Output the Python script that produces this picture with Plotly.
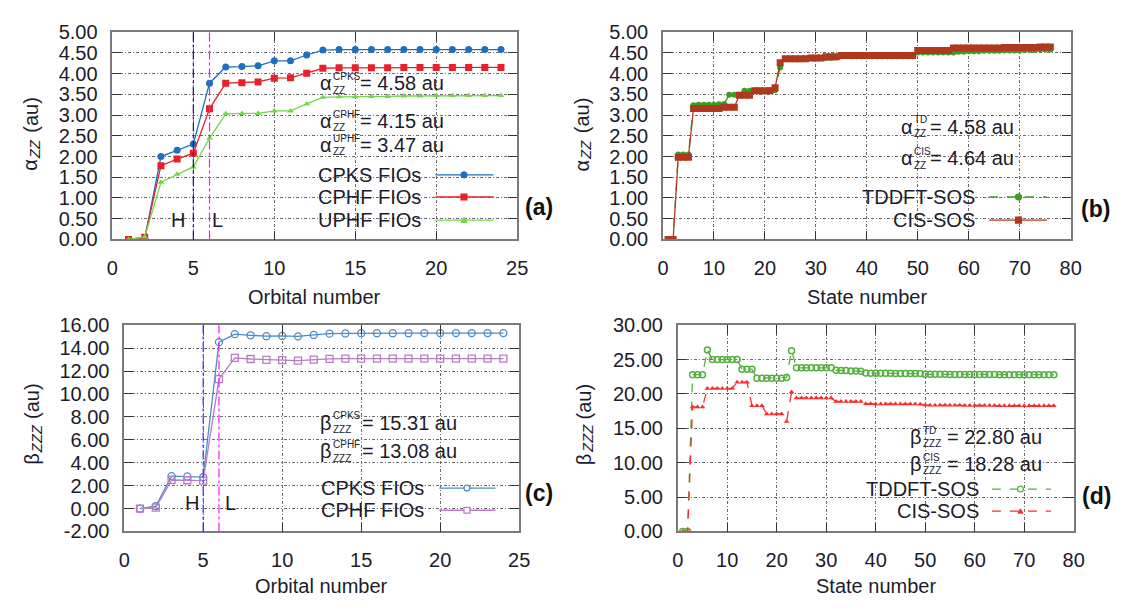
import plotly.graph_objects as go

# ---------------- data ----------------
orbitals = [1, 2, 3, 4, 5, 6, 7, 8, 9, 10, 11, 12, 13, 14, 15, 16, 17, 18, 19, 20, 21, 22, 23, 24]
alpha_cpks = [0.00, 0.02, 2.00, 2.15, 2.30, 3.77, 4.16, 4.17, 4.19, 4.31, 4.31, 4.45, 4.57, 4.58,
              4.58, 4.58, 4.58, 4.58, 4.58, 4.58, 4.58, 4.58, 4.58, 4.58]
alpha_cphf = [0.00, 0.05, 1.78, 1.94, 2.08, 3.15, 3.77, 3.78, 3.80, 3.89, 3.90, 4.01, 4.13, 4.14,
              4.14, 4.14, 4.14, 4.15, 4.15, 4.15, 4.15, 4.15, 4.15, 4.15]
alpha_uphf = [0.00, 0.06, 1.38, 1.57, 1.75, 2.44, 3.03, 3.04, 3.04, 3.10, 3.10, 3.27, 3.43, 3.44,
              3.44, 3.45, 3.45, 3.46, 3.46, 3.47, 3.47, 3.47, 3.47, 3.47]
beta_cpks = [0.00, 0.20, 2.83, 2.80, 2.74, 14.52, 15.22, 15.12, 15.04, 15.06, 15.03, 15.15, 15.26, 15.28,
             15.30, 15.30, 15.30, 15.30, 15.31, 15.31, 15.31, 15.31, 15.31, 15.31]
beta_cphf = [0.00, 0.08, 2.49, 2.47, 2.43, 11.30, 13.14, 13.05, 12.97, 12.95, 12.90, 13.00, 13.06, 13.08,
             13.08, 13.08, 13.08, 13.08, 13.08, 13.08, 13.08, 13.08, 13.08, 13.08]
homo_orbital = 5
lumo_orbital = 6

states = list(range(1, 77))
alpha_td = [0.00, 0.00, 2.05, 2.05, 2.05, 3.24, 3.25, 3.25, 3.25, 3.25, 3.26, 3.27, 3.49, 3.49, 3.49,
            3.59, 3.59, 3.59, 3.59, 3.59, 3.60, 3.60, 4.15, 4.35, 4.35, 4.35, 4.35, 4.36, 4.38, 4.38,
            4.38, 4.38, 4.38, 4.39, 4.42, 4.42, 4.42, 4.42, 4.42, 4.42, 4.42, 4.42, 4.42, 4.42, 4.42,
            4.42, 4.42, 4.42, 4.42, 4.51, 4.51, 4.51, 4.51, 4.51, 4.51, 4.51, 4.51, 4.53, 4.53, 4.54,
            4.54, 4.54, 4.55, 4.55, 4.55, 4.55, 4.56, 4.56, 4.56, 4.56, 4.57, 4.57, 4.57, 4.58, 4.58,
            4.58]
alpha_cis = [0.00, 0.00, 1.98, 1.98, 1.98, 3.16, 3.16, 3.16, 3.16, 3.16, 3.16, 3.19, 3.19, 3.19, 3.48,
             3.48, 3.48, 3.59, 3.59, 3.59, 3.59, 3.66, 4.26, 4.36, 4.36, 4.36, 4.36, 4.36, 4.38, 4.38,
             4.38, 4.41, 4.41, 4.41, 4.44, 4.44, 4.44, 4.44, 4.44, 4.44, 4.44, 4.44, 4.44, 4.44, 4.44,
             4.44, 4.44, 4.44, 4.44, 4.56, 4.56, 4.56, 4.56, 4.56, 4.56, 4.56, 4.62, 4.62, 4.62, 4.62,
             4.62, 4.62, 4.62, 4.62, 4.62, 4.62, 4.63, 4.63, 4.63, 4.63, 4.63, 4.63, 4.63, 4.64, 4.64,
             4.64]
beta_td = [0.00, 0.00, 22.80, 22.80, 22.80, 26.40, 25.00, 25.00, 25.00, 25.00, 25.00, 25.00, 23.60, 23.60,
           23.60, 22.30, 22.30, 22.30, 22.30, 22.30, 22.30, 22.40, 26.30, 23.80, 23.80, 23.80, 23.80, 23.80,
           23.80, 23.80, 23.80, 23.45, 23.40, 23.40, 23.35, 23.35, 23.30, 23.05, 23.00, 23.00, 23.00, 23.00,
           23.00, 22.98, 22.98, 22.98, 22.97, 22.97, 22.96, 22.86, 22.86, 22.85, 22.85, 22.85, 22.84, 22.84,
           22.84, 22.83, 22.83, 22.83, 22.82, 22.82, 22.82, 22.82, 22.81, 22.81, 22.81, 22.81, 22.80, 22.80,
           22.80, 22.80, 22.80, 22.80, 22.80, 22.80]
beta_cis = [0.00, 0.00, 18.10, 18.10, 18.10, 20.80, 20.80, 20.80, 20.80, 20.80, 20.80, 21.70, 21.70, 21.70,
            18.30, 18.30, 18.30, 17.10, 17.10, 17.10, 17.10, 16.00, 20.30, 19.40, 19.40, 19.40, 19.40, 19.40,
            19.40, 19.40, 19.40, 18.90, 18.90, 18.90, 18.90, 18.90, 18.90, 18.58, 18.56, 18.55, 18.55, 18.55,
            18.55, 18.54, 18.54, 18.54, 18.53, 18.53, 18.52, 18.38, 18.37, 18.36, 18.36, 18.35, 18.35, 18.34,
            18.34, 18.33, 18.33, 18.32, 18.32, 18.31, 18.31, 18.31, 18.30, 18.30, 18.30, 18.29, 18.29, 18.29,
            18.29, 18.28, 18.28, 18.28, 18.28, 18.28]

alpha_ticks = [0.0, 0.5, 1.0, 1.5, 2.0, 2.5, 3.0, 3.5, 4.0, 4.5, 5.0]
alpha_ticktext = ["0.00", "0.50", "1.00", "1.50", "2.00", "2.50", "3.00", "3.50", "4.00", "4.50", "5.00"]
beta_c_ticks = [-2, 0, 2, 4, 6, 8, 10, 12, 14, 16]
beta_c_ticktext = ["-2.00", "0.00", "2.00", "4.00", "6.00", "8.00", "10.00", "12.00", "14.00", "16.00"]
beta_d_ticks = [0, 5, 10, 15, 20, 25, 30]
beta_d_ticktext = ["0.00", "5.00", "10.00", "15.00", "20.00", "25.00", "30.00"]
orb_ticks = [0, 5, 10, 15, 20, 25]
state_ticks = [0, 10, 20, 30, 40, 50, 60, 70, 80]

# ---------------- styling ----------------
W, H = 1127, 608
FONT = "Liberation Sans, Arial, sans-serif"
TXT = "#1c1c2c"

def fx(x):
    return x / W

def fy(y):
    return 1 - y / H

C_A_KS, C_A_HF, C_A_UHF = "#1f6fc0", "#e8202a", "#74d64c"
C_B_TD, C_B_CIS = "#3a9e22", "#b0381e"
C_C_KS, C_C_HF = "#4a8cc8", "#b97cc4"
C_D_TD, C_D_CIS = "#55b040", "#ff2a2a"

fig = go.Figure()

def add(x, y, xa, ya, color, symbol, size, dash="solid", width=1.3, mlw=0):
    marker = dict(symbol=symbol, size=size, color=color, line=dict(color=color, width=mlw))
    fig.add_trace(go.Scatter(x=x, y=y, xaxis=xa, yaxis=ya, mode="lines+markers",
                             line=dict(color=color, width=width, dash=dash),
                             marker=marker, showlegend=False, hoverinfo="x+y"))

# (a)
add(orbitals, alpha_cpks, "x", "y", C_A_KS, "circle", 7)
add(orbitals, alpha_cphf, "x", "y", C_A_HF, "square", 7)
add(orbitals, alpha_uphf, "x", "y", C_A_UHF, "triangle-up", 6)
# (b)
add(states, alpha_td, "x2", "y2", C_B_TD, "circle", 6, dash="dash")
add(states, alpha_cis, "x2", "y2", C_B_CIS, "square", 7)
# (c)
add(orbitals, beta_cpks, "x3", "y3", C_C_KS, "circle-open", 7, mlw=1.3)
add(orbitals, beta_cphf, "x3", "y3", C_C_HF, "square-open", 7, mlw=1.3)
# (d)
add(states, beta_td, "x4", "y4", C_D_TD, "circle-open", 6, dash="dash", mlw=1.5)
add(states, beta_cis, "x4", "y4", C_D_CIS, "triangle-up", 5, dash="dash")

ax_common = dict(showline=True, linecolor="#7a7a7a", linewidth=1.5, mirror="ticks",
                 ticks="inside", ticklen=9, tickwidth=1.4, tickcolor="#333333",
                 showgrid=True, gridcolor="#6a6a6a", griddash="3px,2px,1px,2px", gridwidth=1,
                 zeroline=False, tickfont=dict(family=FONT, size=20, color=TXT))

ya_dom = [fy(237), fy(22)]
yc_dom = [fy(540), fy(326)]

fig.update_layout(
    width=W, height=H, margin=dict(l=0, r=0, t=0, b=0),
    paper_bgcolor="white", plot_bgcolor="white", showlegend=False,
    xaxis=dict(ax_common, domain=[fx(108), fx(519)], range=[0, 25], tickvals=orb_ticks,
               anchor="y", ticklabelstandoff=10),
    yaxis=dict(ax_common, domain=ya_dom, range=[0, 5], tickvals=alpha_ticks,
               ticktext=alpha_ticktext, anchor="x", ticklabelstandoff=9),
    xaxis2=dict(ax_common, domain=[fx(667), fx(1081)], range=[0, 80], tickvals=state_ticks,
                anchor="y2", ticklabelstandoff=10),
    yaxis2=dict(ax_common, domain=ya_dom, range=[0, 5], tickvals=alpha_ticks,
                ticktext=alpha_ticktext, anchor="x2", ticklabelstandoff=9),
    xaxis3=dict(ax_common, domain=[fx(120), fx(521)], range=[0, 25], tickvals=orb_ticks,
                anchor="y3", ticklabelstandoff=10),
    yaxis3=dict(ax_common, domain=yc_dom, range=[-2, 16], tickvals=beta_c_ticks,
                ticktext=beta_c_ticktext, anchor="x3", ticklabelstandoff=9),
    xaxis4=dict(ax_common, domain=[fx(682), fx(1084)], range=[0, 80], tickvals=state_ticks,
                anchor="y4", ticklabelstandoff=10),
    yaxis4=dict(ax_common, domain=yc_dom, range=[0, 30], tickvals=beta_d_ticks,
                ticktext=beta_d_ticktext, anchor="x4", ticklabelstandoff=9),
)

# HOMO / LUMO reference lines
for xr, yr, hcol in [("x", "y domain", "#14148c"), ("x3", "y3 domain", "#3434ff")]:
    fig.add_shape(type="line", xref=xr, yref=yr, x0=homo_orbital, x1=homo_orbital, y0=0, y1=1,
                  line=dict(color=hcol, width=1.2, dash="dashdot"))
    fig.add_shape(type="line", xref=xr, yref=yr, x0=lumo_orbital, x1=lumo_orbital, y0=0, y1=1,
                  line=dict(color="#ff10ff", width=1.2, dash="dashdot"))

annots = []

def text(x, y, s, size=20, anchor="center", yanchor="middle", bold=False, italic=False, angle=0, color=TXT):
    annots.append(dict(x=fx(x), y=fy(y), xref="paper", yref="paper", text=(f"<b>{s}</b>" if bold else s),
                       showarrow=False, xanchor=anchor, yanchor=yanchor, textangle=angle,
                       font=dict(family=FONT, size=size, color=color,
                                 style=("italic" if italic else "normal"))))

# axis titles
text(313, 297, "Orbital number")
text(874, 297, "State number")
text(320, 597, "Orbital number")
text(883, 597, "State number")

def ytitle(x, ysym, ysub, yau, sym, sub):
    text(x, ysym, sym, angle=-90)
    text(x + 4, ysub, sub, size=15, italic=True, angle=-90)
    text(x, yau, "(au)", angle=-90)

ytitle(25, 160, 144, 108, "α", "ZZ")
ytitle(585, 160, 144, 108, "α", "ZZ")
ytitle(27, 465, 444, 405, "β", "ZZZ")
ytitle(587, 465, 444, 405, "β", "ZZZ")

# panel labels
text(541, 203, "(a)", size=23, bold=True, color="#111111")
text(1106, 205, "(b)", size=23, bold=True, color="#111111")
text(541, 500, "(c)", size=23, bold=True, color="#111111")
text(1107, 503, "(d)", size=23, bold=True, color="#111111")

# H / L labels
text(175, 217, "H")
text(215, 217, "L")
text(189, 510, "H")
text(228, 510, "L")

def stacked(x, y, sym, sup, sub, rest, off_sub, off_rest):
    text(x, y, sym, anchor="left")
    text(x + off_sub, y - 7, sup, size=10, anchor="left")
    text(x + off_sub, y + 7, sub, size=10, anchor="left")
    text(x + off_rest, y, rest, anchor="left")

stacked(317, 75, "α", "CPKS", "ZZ", "= 4.58 au", 13, 40)
stacked(317, 114, "α", "CPHF", "ZZ", "= 4.15 au", 13, 40)
stacked(317, 139, "α", "UPHF", "ZZ", "= 3.47 au", 13, 40)
stacked(907, 120, "α", "TD", "ZZ", "= 4.58 au", 13, 29)
stacked(907, 153, "α", "CIS", "ZZ", "= 4.64 au", 13, 29)
stacked(317, 427, "β", "CPKS", "ZZZ", "= 15.31 au", 13, 42)
stacked(317, 457, "β", "CPHF", "ZZZ", "= 13.08 au", 13, 42)
stacked(916, 442, "β", "TD", "ZZZ", "= 22.80 au", 13, 37)
stacked(916, 470, "β", "CIS", "ZZZ", "= 18.28 au", 13, 37)

shapes = []

def legend_entry(xr, y, label, x0, x1, xm, color, marker, size, dash="solid", open_=False):
    text(xr, y, label, anchor="right")
    shapes.append(dict(type="line", xref="paper", yref="paper", x0=fx(x0), x1=fx(x1), y0=fy(y), y1=fy(y),
                       line=dict(color=color, width=1.3, dash=dash)))
    r = size / 2
    fill = "white" if open_ else color
    if marker == "circle":
        shapes.append(dict(type="circle", xref="paper", yref="paper", x0=fx(xm - r), x1=fx(xm + r),
                           y0=fy(y + r), y1=fy(y - r), fillcolor=fill, line=dict(color=color, width=1.3)))
    elif marker == "square":
        shapes.append(dict(type="rect", xref="paper", yref="paper", x0=fx(xm - r), x1=fx(xm + r),
                           y0=fy(y + r), y1=fy(y - r), fillcolor=fill, line=dict(color=color, width=1.3)))
    else:
        p = f"M {fx(xm - r)},{fy(y + r * 0.8)} L {fx(xm + r)},{fy(y + r * 0.8)} L {fx(xm)},{fy(y - r)} Z"
        shapes.append(dict(type="path", xref="paper", yref="paper", path=p, fillcolor=fill,
                           line=dict(color=color, width=1)))

legend_entry(423, 170, "CPKS FIOs", 436, 495, 465, C_A_KS, "circle", 6)
legend_entry(423, 193, "CPHF FIOs", 436, 495, 465, C_A_HF, "square", 6)
legend_entry(423, 217, "UPHF FIOs", 436, 495, 465, C_A_UHF, "triangle", 6)
legend_entry(986, 193, "TDDFT-SOS", 998, 1057, 1028, C_B_TD, "circle", 6, dash="dash")
legend_entry(986, 217, "CIS-SOS", 998, 1057, 1028, C_B_CIS, "square", 6)
legend_entry(426, 495, "CPKS FIOs", 440, 497, 468, C_C_KS, "circle", 6, open_=True)
legend_entry(426, 518, "CPHF FIOs", 440, 497, 468, C_C_HF, "square", 6, open_=True)
legend_entry(990, 496, "TDDFT-SOS", 1001, 1061, 1030, C_D_TD, "circle", 6, dash="dash", open_=True)
legend_entry(990, 519, "CIS-SOS", 1001, 1061, 1030, C_D_CIS, "triangle", 5, dash="dash")

fig.update_layout(annotations=annots)
for s in shapes:
    fig.add_shape(**s)

fig.write_html("out.html", config={"displayModeBar": False},
               post_script="document.body.style.margin='0';document.body.style.overflow='hidden';")
